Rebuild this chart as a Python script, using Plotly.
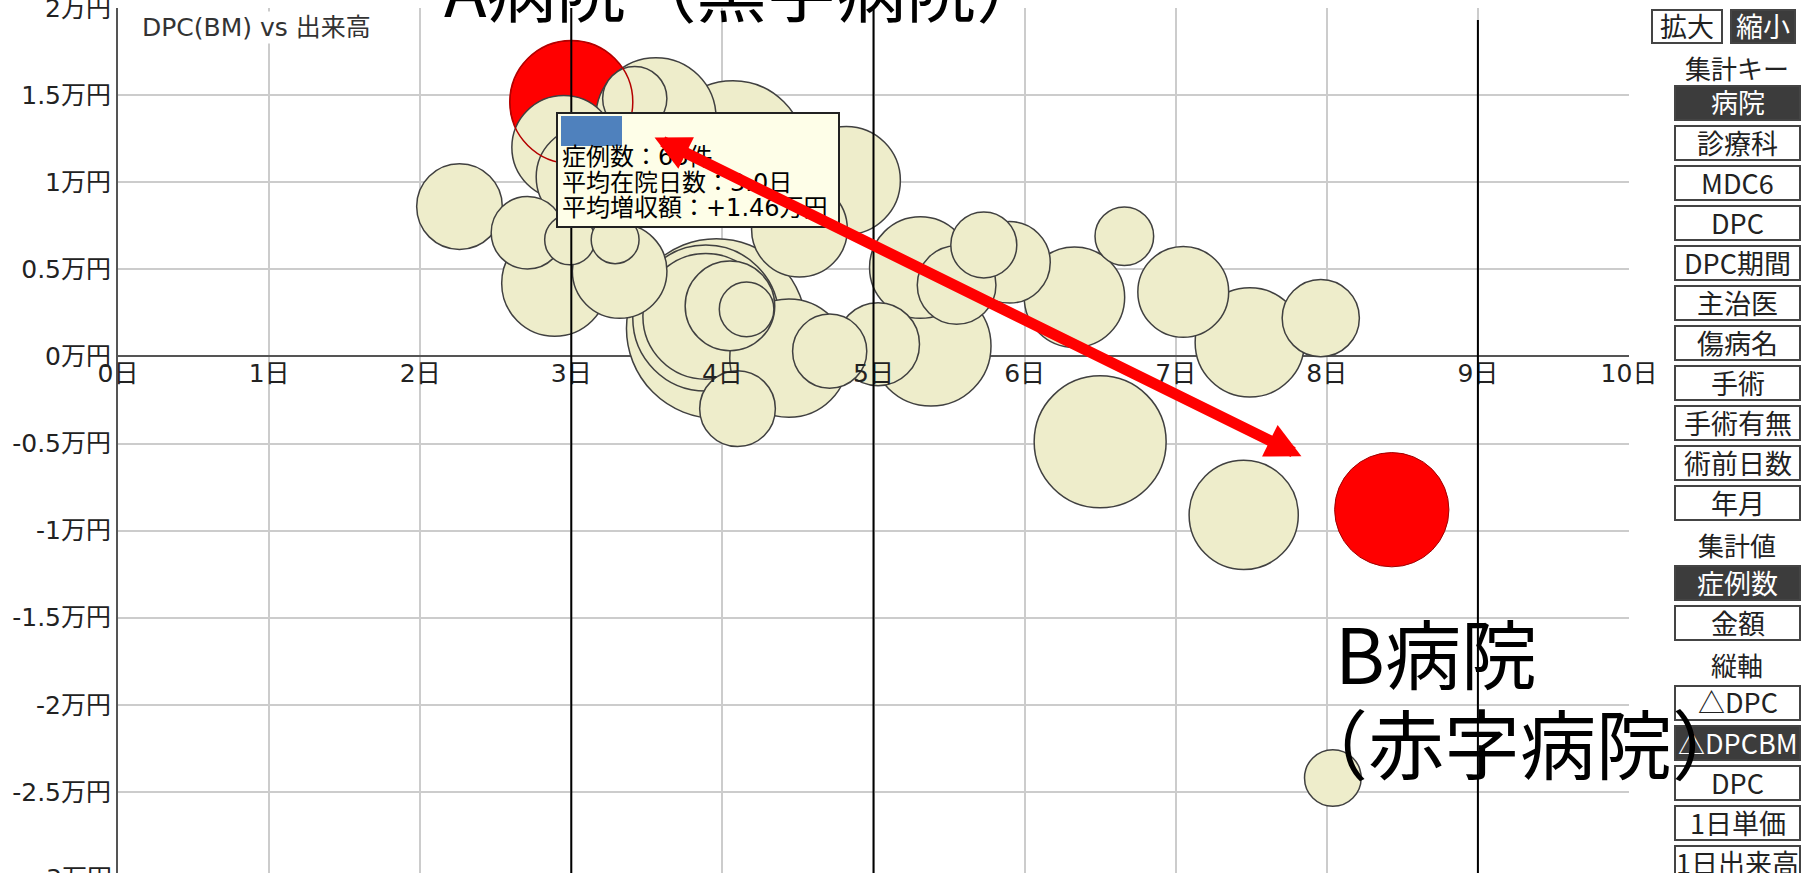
import plotly.graph_objects as go

# ---------------- page geometry ----------------
W, H = 1812, 873
ML, MR, MT, MB = 118, 183, 8, 0
PW, PH = W - ML - MR, H - MT - MB
PX_PER_MAN = 174.2          # pixels per 1万円 on the y axis
Y_TOP = 2.0
Y_BOTTOM = Y_TOP - PH / PX_PER_MAN
X_AXIS_POS = (0 - Y_BOTTOM) / (Y_TOP - Y_BOTTOM)


def fx(p):
    return (p - ML) / PW


def fy(p):
    return (H - MB - p) / PH


GOTH = "DejaVu Sans, Noto Sans CJK JP, sans-serif"
CJK = "Noto Sans CJK JP, sans-serif"

# ---------------- data ----------------
day_ticks = list(range(0, 11))
day_labels = [f"{d}日" for d in day_ticks]
gain_ticks = [2, 1.5, 1, 0.5, 0, -0.5, -1, -1.5, -2, -2.5]
gain_labels = [f"{v:g}万円" for v in gain_ticks]

# other hospitals: 平均在院日数 (日), 平均増収額 (万円), 症例数 (件)
hosp_days = [3.96, 3.89, 4.07, 6.50, 3.89, 3.56, 5.38, 4.44, 7.45, 7.49,
             4.82, 2.89, 2.95, 5.31, 6.33, 3.10, 4.51, 3.32, 7.05, 4.05,
             2.26, 5.03, 5.90, 5.55, 7.96, 4.10, 4.71, 2.71, 5.73, 3.42,
             6.66, 8.04, 4.16, 2.99, 3.29]
hosp_gain = [0.16, 0.22, 1.17, -0.49, 0.23, 1.37, 0.06, -0.01, -0.91, 0.08,
             1.01, 0.42, 1.20, 0.51, 0.34, 1.03, 0.73, 0.49, 0.37, 0.29,
             0.86, 0.07, 0.54, 0.41, 0.22, -0.30, 0.03, 0.71, 0.64, 1.48,
             0.69, -2.42, 0.27, 0.67, 0.67]
hosp_cases = [141, 93, 90, 76, 69, 63, 63, 61, 52, 52,
              51, 49, 47, 45, 44, 44, 40, 39, 36, 35,
              32, 30, 29, 27, 26, 25, 24, 23, 19, 18,
              15, 14, 13, 11, 10]

# highlighted hospitals
red_names = ["A病院", "B病院"]
red_days = [3.0, 8.43]
red_gain = [1.46, -0.88]
red_cases = [66, 57]

period_days = [3, 5, 9]

key_buttons = ["病院", "診療科", "MDC6", "DPC", "DPC期間", "主治医", "傷病名",
               "手術", "手術有無", "術前日数", "年月"]
value_buttons = ["症例数", "金額"]
axis_buttons = ["△DPC", "△DPCBM", "DPC", "1日単価", "1日出来高"]
selected_buttons = {"縮小", "病院", "症例数", "△DPCBM"}

SIZEREF = 0.008725

# ---------------- traces ----------------
fig = go.Figure()
fig.add_trace(go.Scatter(
    x=red_days, y=red_gain, mode="markers", hoverinfo="skip", showlegend=False,
    marker=dict(size=red_cases, sizemode="area", sizeref=SIZEREF, opacity=1,
                color="#ff0000", line=dict(color="#a00000", width=1))))
fig.add_trace(go.Scatter(
    x=hosp_days, y=hosp_gain, mode="markers", hoverinfo="skip", showlegend=False,
    marker=dict(size=hosp_cases, sizemode="area", sizeref=SIZEREF, opacity=1,
                color="#eeedcb", line=dict(color="#404040", width=1.5))))
fig.add_trace(go.Scatter(
    x=red_days[:1], y=red_gain[:1], mode="markers", hoverinfo="skip", showlegend=False,
    marker=dict(size=red_cases[:1], sizemode="area", sizeref=SIZEREF, opacity=1,
                color="rgba(0,0,0,0)", line=dict(color="#b40000", width=1.5))))

# ---------------- shapes ----------------
shapes = []
for d in period_days:
    shapes.append(dict(type="line", xref="x", yref="paper", x0=d, x1=d, y0=0,
                       y1=fy(20) if d == 9 else 1,
                       line=dict(color="#000000", width=2), layer="above"))
# tooltip box
shapes.append(dict(type="rect", xref="paper", yref="paper",
                   x0=fx(557), x1=fx(839), y0=fy(227), y1=fy(113),
                   fillcolor="#fefee8", line=dict(color="#222222", width=2), layer="above"))
shapes.append(dict(type="rect", xref="paper", yref="paper",
                   x0=fx(561), x1=fx(622), y0=fy(146), y1=fy(116),
                   fillcolor="#4f81bd", line=dict(width=0), layer="above"))

annots = []


def button(label, x0, x1, top, h=34, size=27):
    sel = label in selected_buttons
    shapes.append(dict(type="rect", xref="paper", yref="paper",
                       x0=fx(x0), x1=fx(x1), y0=fy(top + h), y1=fy(top),
                       fillcolor="#3c3c3c" if sel else "#ffffff",
                       line=dict(color="#444444", width=2), layer="above"))
    annots.append(dict(xref="paper", yref="paper", x=fx((x0 + x1) / 2), y=fy(top + h / 2 - 1),
                       xanchor="center", yanchor="middle", showarrow=False, text=label,
                       font=dict(family=CJK, size=size, color="#ffffff" if sel else "#222222")))


def label(text, cy, size=26):
    annots.append(dict(xref="paper", yref="paper", x=fx(1737), y=fy(cy - 1),
                       xanchor="center", yanchor="middle", showarrow=False, text=text,
                       font=dict(family=CJK, size=size, color="#222222")))


button("拡大", 1652, 1722, 10, h=33)
button("縮小", 1731, 1795, 10, h=33)
label("集計キー", 68)
for i, b in enumerate(key_buttons):
    button(b, 1675, 1800, 86 + 40 * i)
label("集計値", 545)
for i, b in enumerate(value_buttons):
    button(b, 1675, 1800, 566 + 40 * i)
label("縦軸", 665)
for i, b in enumerate(axis_buttons):
    button(b, 1675, 1800, 686 + 40 * i)

# chart title
annots.append(dict(xref="paper", yref="paper", x=fx(140), y=fy(28), xanchor="left", yanchor="middle",
                   showarrow=False, text="DPC(BM) vs 出来高", bgcolor="#ffffff",
                   font=dict(family=GOTH, size=25, color="#333333")))
# partially visible -3万円 tick label at the bottom edge
annots.append(dict(xref="paper", yref="paper", x=fx(114), y=fy(356.4 + 3 * PX_PER_MAN),
                   xanchor="right", yanchor="middle", showarrow=False, text="-3万円",
                   font=dict(family=GOTH, size=25, color="#222222")))

# tooltip text
tip_lines = [f"症例数：{red_cases[0]}件",
             f"平均在院日数：{red_days[0]:.1f}日",
             f"平均増収額：{red_gain[0]:+.2f}万円"]
for i, t in enumerate(tip_lines):
    annots.append(dict(xref="paper", yref="paper", x=fx(560), y=fy(157 + 25.5 * i),
                       xanchor="left", yanchor="middle", showarrow=False, text=t,
                       font=dict(family=GOTH, size=24, color="#000000")))

# double headed red arrow
annots.append(dict(xref="x", yref="y", axref="x", ayref="y",
                   x=7.832, y=-0.573, ax=3.541, ay=1.261, text="",
                   showarrow=True, arrowside="end+start", arrowhead=2, startarrowhead=2,
                   arrowsize=0.64, startarrowsize=0.64, arrowwidth=11, arrowcolor="#ff0000"))

# big labels
annots.append(dict(xref="paper", yref="paper", x=fx(745), y=fy(-13), xanchor="center", yanchor="middle",
                   showarrow=False, text="A病院（黒字病院）",
                   font=dict(family=CJK, size=70, color="#000000")))
annots.append(dict(xref="paper", yref="paper", x=fx(1436), y=fy(651), xanchor="center", yanchor="middle",
                   showarrow=False, text="B病院",
                   font=dict(family=CJK, size=76, color="#000000")))
annots.append(dict(xref="paper", yref="paper", x=fx(1520), y=fy(741), xanchor="center", yanchor="middle",
                   showarrow=False, text="（赤字病院）",
                   font=dict(family=CJK, size=76, color="#000000")))

fig.update_layout(
    width=W, height=H,
    margin=dict(l=ML, r=MR, t=MT, b=MB, pad=0, autoexpand=False),
    paper_bgcolor="#ffffff", plot_bgcolor="#ffffff",
    showlegend=False, hovermode=False,
    xaxis=dict(range=[0, 10], tickmode="array", tickvals=day_ticks, ticktext=day_labels,
               showgrid=True, gridcolor="#cccccc", gridwidth=2, zeroline=False, showline=False,
               ticks="", tickfont=dict(family=GOTH, size=25, color="#222222"),
               anchor="free", position=X_AXIS_POS, fixedrange=True, ticklabeloverflow="allow"),
    yaxis=dict(range=[Y_BOTTOM, Y_TOP], tickmode="array", tickvals=gain_ticks, ticktext=gain_labels,
               showgrid=True, gridcolor="#cccccc", gridwidth=2,
               zeroline=True, zerolinecolor="#555555", zerolinewidth=2,
               showline=True, linecolor="#555555", linewidth=2, ticklabeloverflow="allow",
               ticks="", tickfont=dict(family=GOTH, size=25, color="#222222"), fixedrange=True),
    shapes=shapes, annotations=annots,
)

fig.write_html("out.html", config={"displayModeBar": False},
               post_script="document.body.style.margin='0px';document.body.style.overflow='hidden';")
